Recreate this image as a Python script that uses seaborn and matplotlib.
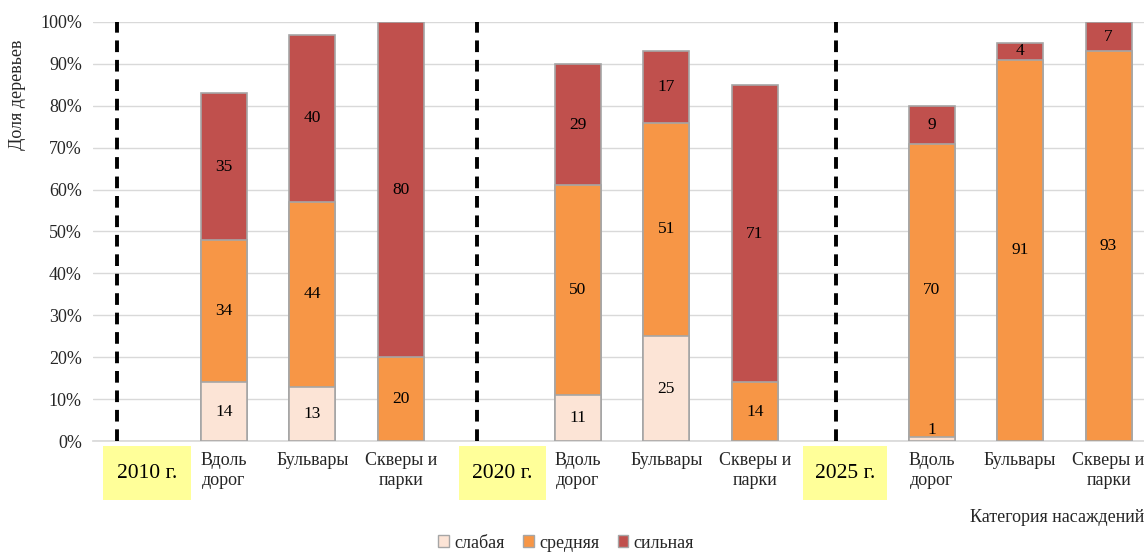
import numpy as np
import pandas as pd
import matplotlib
matplotlib.use("Agg")
import matplotlib.pyplot as plt
import seaborn as sns
from matplotlib.patches import Rectangle
import matplotlib.transforms as mtransforms

sns.set_theme(style="white")
plt.rcParams['font.family'] = ['Liberation Serif', 'DejaVu Serif']

# ---- data ----
slots = ["2010 г.", "Вдоль дорог 2010", "Бульвары 2010", "Скверы и парки 2010",
         "2020 г.", "Вдоль дорог 2020", "Бульвары 2020", "Скверы и парки 2020",
         "2025 г.", "Вдоль дорог 2025", "Бульвары 2025", "Скверы и парки 2025"]
tick_labels = ["", "Вдоль\nдорог", "Бульвары", "Скверы и\nпарки",
               "", "Вдоль\nдорог", "Бульвары", "Скверы и\nпарки",
               "", "Вдоль\nдорог", "Бульвары", "Скверы и\nпарки"]
years = ["2010 г.", "2020 г.", "2025 г."]
weak =   [0, 14, 13, 0,  0, 11, 25, 0,  0, 1, 0, 0]
medium = [0, 34, 44, 20, 0, 50, 51, 14, 0, 70, 91, 93]
strong = [0, 35, 40, 80, 0, 29, 17, 71, 0, 9, 4, 7]
series_names = ["слабая", "средняя", "сильная"]
colors = ["#FCE4D6", "#F79646", "#C0504D"]

df = pd.DataFrame({"slot": slots, "weak": weak, "medium": medium, "strong": strong})
df["c1"] = df["weak"]
df["c2"] = df["weak"] + df["medium"]
df["c3"] = df["c2"] + df["strong"]
for col in ["c1", "c2", "c3"]:
    df[col] = df[col].where(df[col] > 0, np.nan)

fig = plt.figure(figsize=(11.44, 5.53), dpi=100)
ax = fig.add_axes([93/1144, 1-441/553, 1-93/1144, (441-22)/553])

for col, c in zip(["c3", "c2", "c1"], colors[::-1]):
    sns.barplot(data=df, x="slot", y=col, order=slots, color=c, width=0.52,
                edgecolor="#A6A6A6", linewidth=1.2, saturation=1, ax=ax, zorder=3)

# value labels
for i in range(len(slots)):
    bottoms = [0, weak[i], weak[i] + medium[i]]
    for v, b in zip([weak[i], medium[i], strong[i]], bottoms):
        if v > 0:
            ax.text(i, max(b + v / 2, 2.6), f"{v}", ha="center", va="center",
                    fontsize=12.5, color="black", zorder=5)

ax.set_ylim(0, 100)
ax.set_xlim(-0.48, 11.4)
ax.set_yticks(np.arange(0, 101, 10))
ax.set_yticklabels([f"{t}%" for t in range(0, 101, 10)], fontsize=13)
ax.yaxis.grid(True, color="#D9D9D9", linewidth=1, zorder=0)
ax.set_axisbelow(True)
for s in ["top", "right", "left"]:
    ax.spines[s].set_visible(False)
ax.spines["bottom"].set_color("#D9D9D9")
ax.tick_params(axis="y", length=0, pad=8)
ax.tick_params(axis="x", length=0, pad=8)
ax.set_xticks(range(len(slots)))
ax.set_xticklabels(tick_labels, fontsize=13, va="top", linespacing=1.2)
ax.set_xlabel("")
ax.set_ylabel("")

# dashed separators
for xpos in [-0.21, 3.86, 7.92]:
    ax.axvline(xpos, color="black", linestyle=(0, (3, 2)), linewidth=2.8, zorder=4)

# yellow year boxes
trans = mtransforms.blended_transform_factory(ax.transData, ax.transAxes)
box_left = [-0.37, 3.66, 7.55]
box_w = [1.0, 0.98, 0.94]
for yr, xl, w in zip(years, box_left, box_w):
    ax.add_patch(Rectangle((xl, -0.012), w, -0.129, transform=trans, clip_on=False,
                           facecolor="#FFFF99", edgecolor="none", zorder=1))
    ax.text(xl + w / 2, -0.012 - 0.0645, yr, transform=trans, ha="center", va="center",
            fontsize=15.5, color="black")

fig.text(18/1144, 1-95/553, "Доля деревьев", rotation=90, ha="center", va="center",
         fontsize=13)
fig.text(1.0, 1-517/553, "Категория насаждений", ha="right", va="center", fontsize=13)

handles = [Rectangle((0, 0), 1, 1, facecolor=c, edgecolor="#A6A6A6") for c in colors]
fig.legend(handles, series_names, loc="center", bbox_to_anchor=(0.495, 1-543/553),
           ncol=3, frameon=False, fontsize=13, handlelength=0.6, handleheight=0.6,
           handletextpad=0.3, columnspacing=1.0, borderpad=0.1)

fig.savefig("out.png", dpi=100)
